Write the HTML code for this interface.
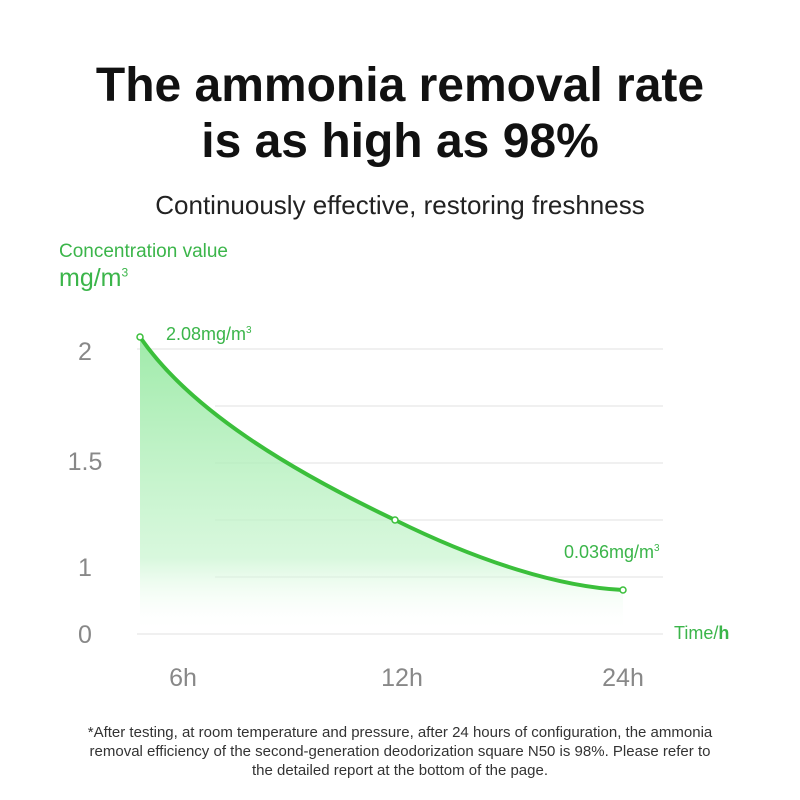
<!DOCTYPE html>
<html><head><meta charset="utf-8"><style>
html,body{margin:0;padding:0;background:#fff;}
body{width:800px;height:800px;overflow:hidden;position:relative;font-family:"Liberation Sans","DejaVu Sans",sans-serif;}
.t{position:absolute;white-space:nowrap;}
</style></head><body>
<div class="t" style="left:0;width:800px;top:58px;text-align:center;font-size:48px;font-weight:bold;color:#111;line-height:56px;">The ammonia removal rate<br>is as high as 98%</div>
<div class="t" style="left:0;width:800px;top:190px;text-align:center;font-size:26px;color:#222;">Continuously effective, restoring freshness</div>
<div class="t" style="left:59px;top:241px;font-size:19px;color:#3bb54a;">Concentration value</div>
<div class="t" style="left:59px;top:264px;font-size:25px;color:#3bb54a;">mg/m<sup style="font-size:12px">3</sup></div>
<svg width="800" height="800" style="position:absolute;left:0;top:0">
<defs><linearGradient id="g" x1="0" y1="0" x2="0" y2="1"><stop offset="0" stop-color="#8fe79b" stop-opacity="0.85"/><stop offset="0.75" stop-color="#c8f5cf" stop-opacity="0.7"/><stop offset="1" stop-color="#fff" stop-opacity="0"/></linearGradient></defs>
<g stroke="#ececec" stroke-width="1.5">
<line x1="137" y1="349" x2="663" y2="349"/>
<line x1="215" y1="406" x2="663" y2="406"/>
<line x1="215" y1="463" x2="663" y2="463"/>
<line x1="215" y1="520" x2="663" y2="520"/>
<line x1="215" y1="577" x2="663" y2="577"/>
<line x1="137" y1="634" x2="663" y2="634"/>
</g>
<path d="M140,337 C190,410 290,470 395,520 C480,562 560,587 623,590 L623,632 L140,632 Z" fill="url(#g)"/>
<path d="M140,337 C190,410 290,470 395,520 C480,562 560,587 623,590" fill="none" stroke="#3bbf3b" stroke-width="4"/>
<g fill="#fff" stroke="#3bbf3b" stroke-width="1.5">
<circle cx="140" cy="337" r="3"/><circle cx="395" cy="520" r="3"/><circle cx="623" cy="590" r="3"/></g>
<g font-family="Liberation Sans, sans-serif" fill="#888" font-size="25" text-anchor="middle">
<text x="85" y="360">2</text><text x="85" y="470">1.5</text><text x="85" y="576">1</text><text x="85" y="643">0</text>
<text x="183" y="686">6h</text><text x="402" y="686">12h</text><text x="623" y="686">24h</text>
</g>
<g font-family="Liberation Sans, sans-serif" fill="#3bb54a" font-size="18">
<text x="166" y="340">2.08mg/m<tspan font-size="10" dy="-7">3</tspan></text>
<text x="564" y="558">0.036mg/m<tspan font-size="10" dy="-7">3</tspan></text>
<text x="674" y="639">Time/<tspan font-weight="bold">h</tspan></text>
</g>
</svg>
<div class="t" style="left:0;width:800px;top:723px;text-align:center;font-size:15px;color:#333;line-height:19px;">*After testing, at room temperature and pressure, after 24 hours of configuration, the ammonia<br>removal efficiency of the second-generation deodorization square N50 is 98%. Please refer to<br>the detailed report at the bottom of the page.</div>
</body></html>
